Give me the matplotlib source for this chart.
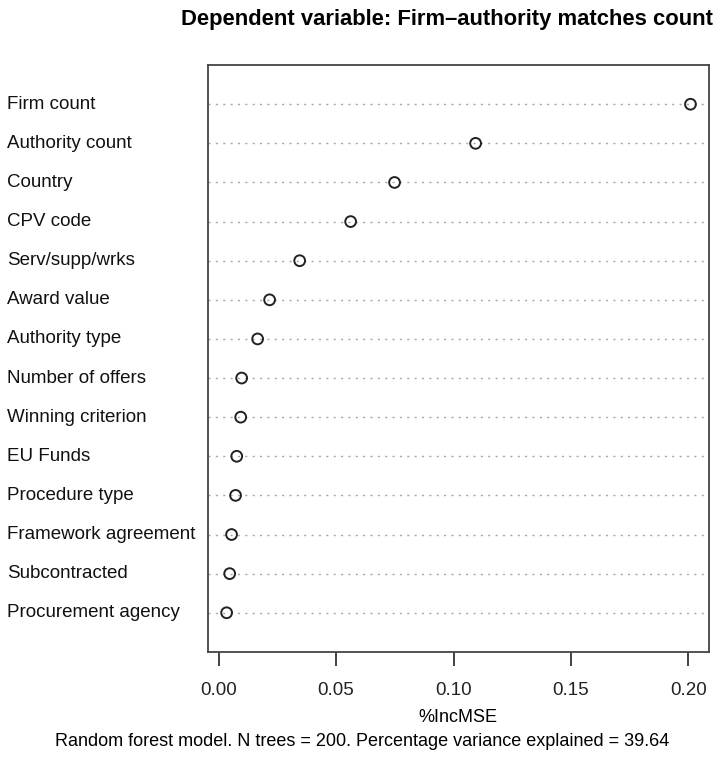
import matplotlib.pyplot as plt
import matplotlib as mpl

mpl.rcParams['font.family'] = ['Liberation Sans', 'DejaVu Sans']

# variable importance from the random forest, top to bottom
features = ['Firm count', 'Authority count', 'Country', 'CPV code',
            'Serv/supp/wrks', 'Award value', 'Authority type',
            'Number of offers', 'Winning criterion', 'EU Funds',
            'Procedure type', 'Framework agreement', 'Subcontracted',
            'Procurement agency']
inc_mse = [0.2009, 0.1094, 0.0749, 0.0562, 0.0345, 0.0217, 0.0166,
           0.0098, 0.0094, 0.0077, 0.0072, 0.0055, 0.0047, 0.0034]
xticks = [0.00, 0.05, 0.10, 0.15, 0.20]
tick_labels = ['0.00', '0.05', '0.10', '0.15', '0.20']

fig = plt.figure(figsize=(7.25, 7.66), dpi=100)
ax = fig.add_axes([0.287, 0.149, 0.691, 0.766])

n = len(features)
ypos = list(range(n, 0, -1))

for y in ypos:
    ax.axhline(y, color='#a8a8a8', linestyle=(0, (1.5, 3.8)), linewidth=1.0, zorder=1)
ax.scatter(inc_mse, ypos, s=60, facecolors='none', edgecolors='#222222',
           linewidths=1.4, zorder=3)

span = max(inc_mse) - min(inc_mse)
ax.set_xlim(min(inc_mse) - 0.04 * span, max(inc_mse) + 0.04 * span)
ax.set_ylim(0, n + 1)

ax.set_yticks([])
for y, name in zip(ypos, features):
    fig.text(7 / 725, ax.transData.transform((0, y))[1] / fig.bbox.height, name,
             ha='left', va='center', fontsize=13.5, color='#111111')

ax.set_xticks(xticks)
ax.set_xticklabels(tick_labels, fontsize=13.5)
ax.tick_params(axis='x', direction='out', length=10, width=1.2, pad=12, colors='#222222')
for s in ax.spines.values():
    s.set_linewidth(1.3)
    s.set_color('#444444')

fig.text(447 / 725, 1 - 19 / 766, 'Dependent variable: Firm\u2013authority matches count',
         ha='center', va='center', fontsize=15.8, fontweight='bold')
fig.text(458 / 725, 1 - 718 / 766, '%IncMSE', ha='center', va='center', fontsize=13)
fig.text(0.5, 1 - 741 / 766,
         'Random forest model. N trees = 200. Percentage variance explained = 39.64',
         ha='center', va='center', fontsize=13)

fig.savefig('out.png', dpi=100)
